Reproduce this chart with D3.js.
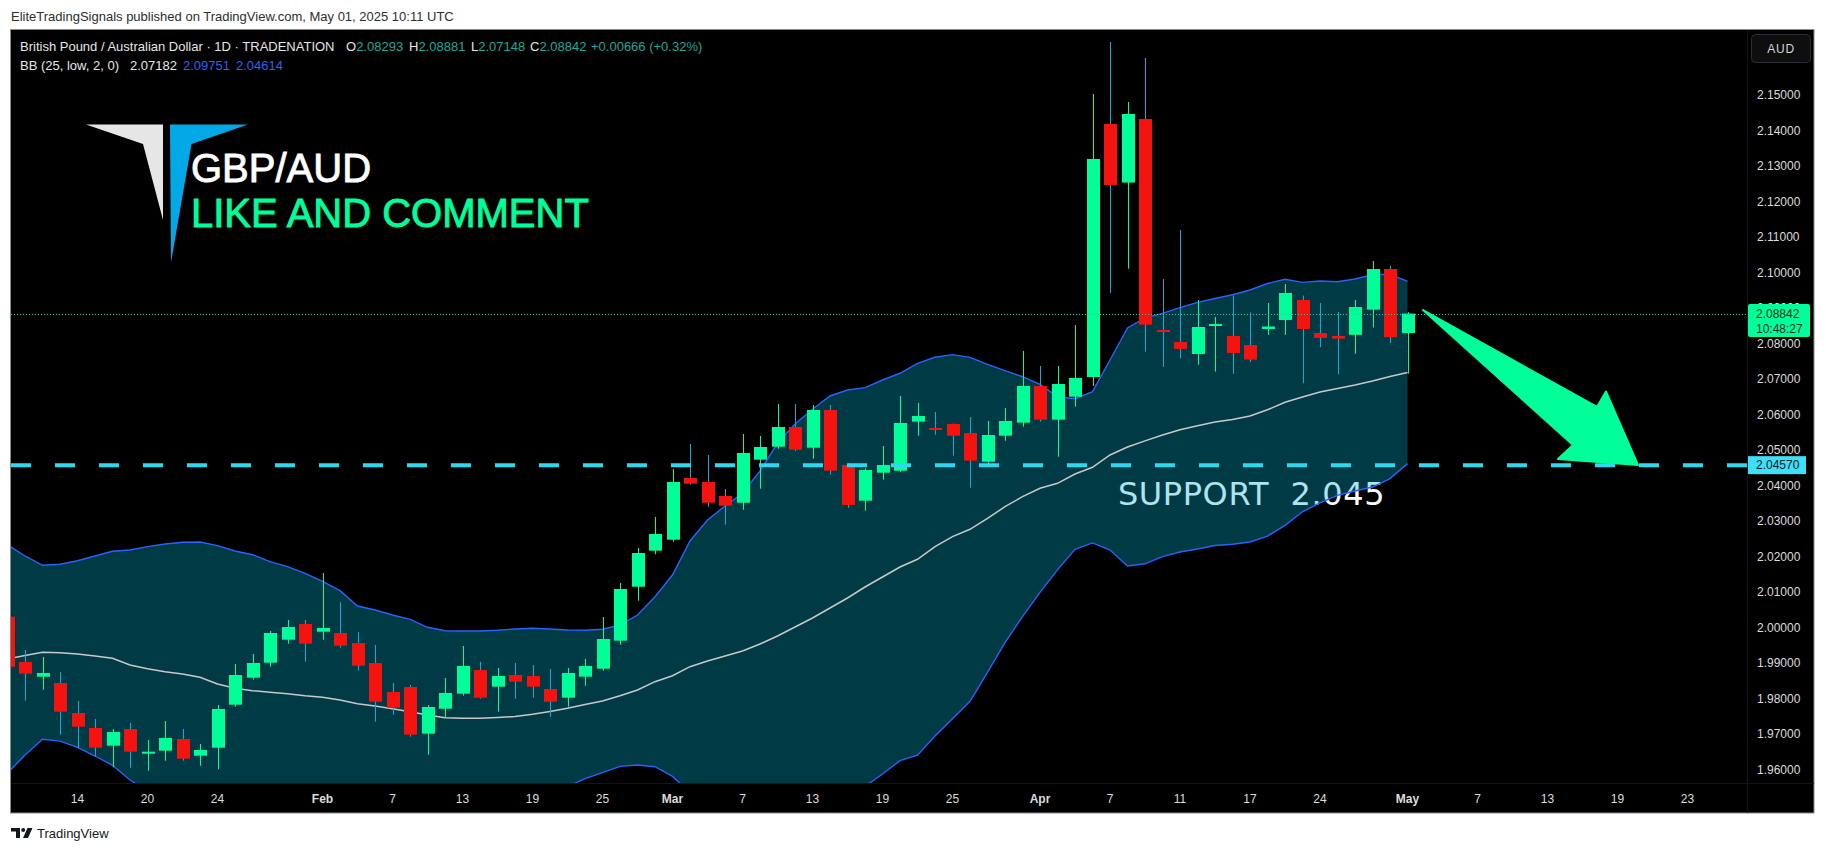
<!DOCTYPE html>
<html><head><meta charset="utf-8">
<script src="https://cdn.jsdelivr.net/npm/d3@7"></script>
<style>
html,body{margin:0;padding:0;background:#fff;}
svg{display:block;font-family:"Liberation Sans",Arial,sans-serif;}
</style></head><body>
<svg id="c" width="1826" height="853"></svg>
<script>
// ---------- data ----------
const dates = ["2025-01-08","2025-01-09","2025-01-10","2025-01-13","2025-01-14","2025-01-15","2025-01-16","2025-01-17","2025-01-20","2025-01-21","2025-01-22","2025-01-23","2025-01-24","2025-01-27","2025-01-28","2025-01-29","2025-01-30","2025-01-31","2025-02-03","2025-02-04","2025-02-05","2025-02-06","2025-02-07","2025-02-10","2025-02-11","2025-02-12","2025-02-13","2025-02-14","2025-02-17","2025-02-18","2025-02-19","2025-02-20","2025-02-21","2025-02-24","2025-02-25","2025-02-26","2025-02-27","2025-02-28","2025-03-03","2025-03-04","2025-03-05","2025-03-06","2025-03-07","2025-03-10","2025-03-11","2025-03-12","2025-03-13","2025-03-14","2025-03-17","2025-03-18","2025-03-19","2025-03-20","2025-03-21","2025-03-24","2025-03-25","2025-03-26","2025-03-27","2025-03-28","2025-03-31","2025-04-01","2025-04-02","2025-04-03","2025-04-04","2025-04-07","2025-04-08","2025-04-09","2025-04-10","2025-04-11","2025-04-14","2025-04-15","2025-04-16","2025-04-17","2025-04-21","2025-04-22","2025-04-23","2025-04-24","2025-04-25","2025-04-28","2025-04-29","2025-04-30","2025-05-01"];
const futureDates = ["2025-05-02","2025-05-05","2025-05-06","2025-05-07","2025-05-08","2025-05-09","2025-05-12","2025-05-13","2025-05-14","2025-05-15","2025-05-16","2025-05-19","2025-05-20","2025-05-21","2025-05-22","2025-05-23","2025-05-26","2025-05-27","2025-05-28","2025-05-29","2025-05-30"];
const openP  = [2.00300,1.99024,1.98610,1.98432,1.97587,1.97164,1.96666,1.97136,1.96440,1.96525,1.96854,1.96384,1.96609,1.97821,1.98582,1.99004,1.99652,2.00095,1.99877,1.99841,1.99559,1.98996,1.98179,1.98320,1.97004,1.97708,1.98131,1.98799,1.98328,1.98658,1.98629,1.98263,1.98018,1.98610,1.98835,1.99624,2.01145,2.02160,2.02470,2.04208,2.04096,2.03701,2.03512,2.04724,2.05090,2.05646,2.05062,2.06124,2.04575,2.03569,2.04358,2.04414,2.05795,2.05617,2.05730,2.05476,2.04668,2.05400,2.05767,2.06801,2.05851,2.06499,2.07054,2.14183,2.12532,2.14324,2.08379,2.08041,2.07702,2.08491,2.08210,2.07956,2.08407,2.08660,2.09224,2.08294,2.08210,2.08243,2.08953,2.10097,2.08293];
const highP  = [2.00420,1.99362,1.99165,1.98742,1.97925,1.97418,1.97136,1.97305,1.96826,1.97361,1.97136,1.96713,1.97812,1.98968,1.99249,1.99897,2.00207,2.00207,2.01532,2.00715,1.99869,1.99503,1.98432,1.98376,1.97812,1.98573,1.99475,1.99032,1.98855,1.98996,1.98939,1.98827,1.98855,1.99108,2.00292,2.01250,2.02236,2.03109,2.04462,2.05166,2.04856,2.03898,2.05448,2.05392,2.06294,2.06294,2.06265,2.06265,2.04630,2.04481,2.05110,2.06519,2.06322,2.06068,2.05740,2.05927,2.05814,2.06181,2.07787,2.07364,2.07364,2.08519,2.15028,2.16494,2.14803,2.16043,2.09816,2.11196,2.09224,2.08745,2.09351,2.08875,2.09139,2.09675,2.09351,2.09139,2.08886,2.09224,2.10323,2.10182,2.08881];
const lowP   = [1.98720,1.97933,1.98244,1.96975,1.96592,1.96356,1.96057,1.96046,1.95961,1.96243,1.96243,1.96102,1.96001,1.97764,1.98525,1.98892,1.99540,1.99032,1.99652,1.99426,1.98779,1.97342,1.97539,1.96919,1.96412,1.97446,1.98075,1.97990,1.97624,1.97990,1.98018,1.97483,1.97764,1.98356,1.98779,1.99511,2.00751,2.02057,2.02413,2.04020,2.03400,2.02893,2.03315,2.03907,2.05033,2.04970,2.04752,2.04301,2.03371,2.03287,2.04161,2.04380,2.05400,2.05428,2.04837,2.03935,2.04566,2.05259,2.05654,2.05795,2.04809,2.06217,2.06801,2.09427,2.10106,2.07767,2.07336,2.07576,2.07401,2.07207,2.07147,2.07477,2.08243,2.08243,2.06877,2.07894,2.07127,2.07711,2.08449,2.08012,2.07148];
const closeP = [1.98891,1.98695,1.98714,1.97624,1.97201,1.96609,1.97052,1.96497,1.96497,1.96883,1.96299,1.96544,1.97700,1.98658,1.98996,1.99841,2.00010,1.99540,1.99982,1.99483,1.98920,1.97905,1.97736,1.96975,1.97756,1.98151,1.98911,1.98018,1.98629,1.98469,1.98328,1.97905,1.98714,1.98911,1.99672,2.01081,2.02095,2.02630,2.04096,2.04048,2.03512,2.03428,2.04913,2.05082,2.05646,2.05006,2.06124,2.04414,2.03448,2.04434,2.04575,2.05758,2.05955,2.05597,2.05400,2.04696,2.05420,2.05814,2.06801,2.05851,2.06857,2.07026,2.13197,2.12464,2.14465,2.08528,2.08331,2.07846,2.08463,2.08548,2.07731,2.07545,2.08477,2.09421,2.08407,2.08156,2.08136,2.09027,2.10097,2.08176,2.08842];
const bbUpper = [2.02321,2.02011,2.01749,2.01777,2.01878,2.02011,2.02143,2.02180,2.02273,2.02349,2.02397,2.02405,2.02301,2.02152,2.02047,2.01850,2.01709,2.01523,2.01298,2.01033,2.00602,2.00489,2.00348,2.00227,2.00002,1.99906,1.99898,1.99898,1.99917,1.99954,1.99974,1.99954,1.99926,1.99917,1.99945,2.00066,2.00348,2.00864,2.01475,2.02433,2.03025,2.03419,2.03777,2.04406,2.05186,2.05730,2.06144,2.06519,2.06688,2.06753,2.06970,2.07159,2.07440,2.07609,2.07683,2.07609,2.07412,2.07232,2.07063,2.06849,2.06499,2.06443,2.06640,2.07533,2.08435,2.08717,2.08846,2.09010,2.09156,2.09266,2.09371,2.09506,2.09689,2.09807,2.09720,2.09759,2.09740,2.09816,2.09934,2.09951,2.09751];
const bbBasis = [1.99108,1.99207,1.99297,1.99286,1.99249,1.99193,1.99128,1.98939,1.98835,1.98751,1.98686,1.98593,1.98404,1.98283,1.98215,1.98170,1.98131,1.98074,1.98029,1.97953,1.97849,1.97784,1.97708,1.97624,1.97530,1.97454,1.97437,1.97437,1.97460,1.97488,1.97550,1.97629,1.97719,1.97827,1.97925,1.98074,1.98235,1.98469,1.98638,1.98892,1.99052,1.99193,1.99334,1.99531,1.99757,2.00010,2.00264,2.00545,2.00827,2.01137,2.01419,2.01701,2.01918,2.02273,2.02555,2.02763,2.03073,2.03400,2.03682,2.03918,2.04059,2.04321,2.04510,2.04856,2.05082,2.05254,2.05420,2.05567,2.05682,2.05786,2.05857,2.05955,2.06130,2.06341,2.06488,2.06632,2.06730,2.06829,2.06944,2.07071,2.07182];
const bbLower = [1.95895,1.96403,1.96845,1.96795,1.96620,1.96375,1.96113,1.95698,1.95397,1.95153,1.94975,1.94781,1.94507,1.94414,1.94383,1.94490,1.94553,1.94625,1.94760,1.94873,1.95096,1.95079,1.95068,1.95021,1.95058,1.95002,1.94976,1.94976,1.95003,1.95022,1.95126,1.95304,1.95512,1.95737,1.95905,1.96082,1.96122,1.96074,1.95801,1.95351,1.95079,1.94967,1.94891,1.94656,1.94328,1.94290,1.94384,1.94571,1.94966,1.95521,1.95868,1.96243,1.96396,1.96937,1.97427,1.97917,1.98734,1.99568,2.00301,2.00987,2.01619,2.02199,2.02380,2.02179,2.01729,2.01791,2.01994,2.02124,2.02208,2.02306,2.02343,2.02404,2.02571,2.02875,2.03256,2.03505,2.03720,2.03842,2.03954,2.04191,2.04614];
const tickDates  = ["2025-01-14","2025-01-20","2025-01-24","2025-02-03","2025-02-07","2025-02-13","2025-02-19","2025-02-25","2025-03-03","2025-03-07","2025-03-13","2025-03-19","2025-03-25","2025-04-01","2025-04-07","2025-04-11","2025-04-17","2025-04-24","2025-05-01","2025-05-07","2025-05-13","2025-05-19","2025-05-23"];
const tickLabels = ["14","20","24","Feb","7","13","19","25","Mar","7","13","19","25","Apr","7","11","17","24","May","7","13","19","23"];
const monthLabels = ["Feb","Mar","Apr","May"];
const priceTicks = [1.96,1.97,1.98,1.99,2.00,2.01,2.02,2.03,2.04,2.05,2.06,2.07,2.08,2.09,2.10,2.11,2.12,2.13,2.14,2.15];
const supportLevel = 2.04570;
const lastPrice = 2.08842;
const legendOHLC = {O:"2.08293", H:"2.08881", L:"2.07148", C:"2.08842", chg:"+0.00666 (+0.32%)"};
const legendBB = {basis:"2.07182", upper:"2.09751", lower:"2.04614"};
// arrow annotation: [bar index, price]
const arrowPts = [[80.89,2.08942],[90.83,2.06209],[91.34,2.06646],[93.17,2.04575],[88.60,2.04744],[89.46,2.05138]];
const supportText = {idx:63.45, price:2.03447, label:"SUPPORT  2.045"};

// ---------- layout ----------
const svg = d3.select("#c");
const P = {left:11, right:1747, top:30, bottom:783};
const allDates = dates.concat(futureDates);
const x = d3.scaleBand().domain(allDates)
  .range([-1.25, -1.25 + allDates.length*17.5]).paddingInner(0.26).paddingOuter(0.13);
const cx = d => x(d) + x.bandwidth()/2;
const xi = d3.scaleLinear().domain([0, allDates.length-1]).range([cx(allDates[0]), cx(allDates[allDates.length-1])]);
const y = d3.scaleLinear().domain([1.956143, 2.168315]).range([P.bottom, P.top]);

// header
svg.append("text").attr("x",11).attr("y",21).attr("font-size",13).attr("fill","#2e2e2e")
  .text("EliteTradingSignals published on TradingView.com, May 01, 2025 10:11 UTC");

// panel
svg.append("rect").attr("x",10.5).attr("y",29.5).attr("width",1803.5).attr("height",783.5)
  .attr("fill","#000").attr("stroke","#8a8a8a").attr("stroke-width",1);
svg.append("line").attr("x1",P.right+0.5).attr("x2",P.right+0.5).attr("y1",30).attr("y2",813).attr("stroke","#141414");
svg.append("line").attr("x1",11).attr("x2",1814).attr("y1",P.bottom+0.5).attr("y2",P.bottom+0.5).attr("stroke","#141414");

svg.append("defs").append("clipPath").attr("id","plot").append("rect")
  .attr("x",P.left).attr("y",P.top).attr("width",P.right-P.left).attr("height",P.bottom-P.top);
const g = svg.append("g").attr("clip-path","url(#plot)");

// support text (under band fill)
g.append("text").attr("x",xi(supportText.idx)).attr("y",y(supportText.price))
  .attr("xml:space","preserve").style("white-space","pre")
  .attr("font-family","DejaVu Sans, sans-serif").attr("font-size",32).attr("letter-spacing",0.6)
  .attr("fill","#ffffff").text(supportText.label);

const bars = dates.map((d,i)=>({d, o:openP[i], h:highP[i], l:lowP[i], c:closeP[i], u:bbUpper[i], m:bbBasis[i], lo:bbLower[i]}));

// Bollinger band fill + lines
g.append("path").datum(bars)
  .attr("d", d3.area().x(b=>cx(b.d)).y0(b=>y(b.lo)).y1(b=>y(b.u)))
  .attr("fill","rgba(0,176,206,0.33)");
g.append("path").datum(bars).attr("d", d3.line().x(b=>cx(b.d)).y(b=>y(b.m)))
  .attr("fill","none").attr("stroke","#c8c8c8").attr("stroke-width",1.5);
["u","lo"].forEach(k=>{
  g.append("path").datum(bars).attr("d", d3.line().x(b=>cx(b.d)).y(b=>y(b[k])))
    .attr("fill","none").attr("stroke","#2962ff").attr("stroke-width",1.4);
});

// candles
const up = "#00ff99", dn = "#f5130f", dnWick = "#16a8d8";
const cg = g.append("g").selectAll("g").data(bars).join("g");
cg.append("line").attr("x1",b=>Math.round(cx(b.d))+0.5).attr("x2",b=>Math.round(cx(b.d))+0.5)
  .attr("y1",b=>y(b.h)).attr("y2",b=>y(b.l))
  .attr("stroke",b=>b.c>=b.o?up:dnWick).attr("stroke-width",1);
cg.append("rect").attr("x",b=>Math.round(cx(b.d))+0.5-6.5).attr("width",13)
  .attr("y",b=>Math.min(y(b.o),y(b.c)))
  .attr("height",b=>Math.max(2,Math.abs(y(b.o)-y(b.c))))
  .attr("fill",b=>b.c>=b.o?up:dn);

// support dashed line
g.append("line").attr("x1",P.left).attr("x2",P.right).attr("y1",y(supportLevel)).attr("y2",y(supportLevel))
  .attr("stroke","#2ed8ef").attr("stroke-width",4).attr("stroke-dasharray","20,24");
// last price dotted line
g.append("line").attr("x1",P.left).attr("x2",P.right).attr("y1",Math.round(y(lastPrice))+0.5).attr("y2",Math.round(y(lastPrice))+0.5)
  .attr("stroke","#26c99b").attr("stroke-width",1).attr("stroke-dasharray","1,2");

// arrow
g.append("path").attr("d", d3.line().x(p=>xi(p[0])).y(p=>y(p[1])).curve(d3.curveLinearClosed)(arrowPts))
  .attr("fill","#00ff99").attr("stroke","#00ff99").attr("stroke-width",2).attr("stroke-linejoin","round");

// legend
const lg = svg.append("g").attr("font-size",13);
const l1 = lg.append("text").attr("y",51).attr("fill","#e6e6e6");
l1.append("tspan").attr("x",20).text("British Pound / Australian Dollar · 1D · TRADENATION");
[["O",346,legendOHLC.O],["H",409,legendOHLC.H],["L",471,legendOHLC.L],["C",530,legendOHLC.C]].forEach(([k,px,v])=>{
  l1.append("tspan").attr("x",px).attr("fill","#e6e6e6").text(k);
  l1.append("tspan").attr("fill","#26a69a").text(v);
});
l1.append("tspan").attr("x",591).attr("fill","#26a69a").text(legendOHLC.chg);
const l2 = lg.append("text").attr("y",70).attr("fill","#e6e6e6");
l2.append("tspan").attr("x",20).text("BB (25, low, 2, 0)");
l2.append("tspan").attr("x",130).text(legendBB.basis);
l2.append("tspan").attr("x",183).attr("fill","#2962ff").text(legendBB.upper);
l2.append("tspan").attr("x",236).attr("fill","#2962ff").text(legendBB.lower);

// logo
svg.append("path").attr("d","M86,124.5 L163,124.5 L163,220 L143,144 Z").attr("fill","#e6e6e6");
svg.append("path").attr("d","M170,124.5 L248,124.5 L191.5,144 L171,262.5 Z").attr("fill","#03a9e6");
svg.append("text").attr("x",191).attr("y",182).attr("font-size",40).attr("fill","#ffffff")
  .attr("stroke","#ffffff").attr("stroke-width",0.9).text("GBP/AUD");
svg.append("text").attr("x",191).attr("y",227).attr("font-size",40).attr("fill","#00ff99")
  .attr("stroke","#00ff99").attr("stroke-width",0.9).text("LIKE AND COMMENT");

// price axis
const ya = svg.append("g").attr("transform",`translate(${P.right},0)`)
  .call(d3.axisRight(y).tickValues(priceTicks).tickFormat(d3.format(".5f")).tickSize(0).tickPadding(10));
ya.select(".domain").remove();
ya.selectAll("text").attr("font-size",12).attr("fill","#dcdcdc").attr("font-family","Liberation Sans, Arial, sans-serif");

// time axis
const xa = svg.append("g").attr("transform",`translate(0,${P.bottom})`)
  .call(d3.axisBottom(x).tickValues(tickDates).tickFormat((d,i)=>tickLabels[i]).tickSize(0));
xa.select(".domain").remove();
xa.selectAll("text").attr("y",16).attr("dy","0.35em").attr("font-size",12).attr("fill","#dcdcdc")
  .attr("font-family","Liberation Sans, Arial, sans-serif")
  .attr("font-weight",function(){return monthLabels.includes(this.textContent)?"bold":"normal";});

// AUD button
svg.append("rect").attr("x",1751.5).attr("y",34.5).attr("width",59).attr("height",28).attr("rx",4)
  .attr("fill","#0e0e0e").attr("stroke","#2a2e39");
svg.append("text").attr("x",1781).attr("y",48.5).attr("dy","0.35em").attr("text-anchor","middle")
  .attr("font-size",12).attr("fill","#d1d4dc").attr("letter-spacing",0.8).text("AUD");

// last price label (covers the 2.09000 tick, as in the reference)
const yl = y(lastPrice);
svg.append("rect").attr("x",1748).attr("y",yl-9.5).attr("width",62).attr("height",33).attr("rx",2).attr("fill","#00ff99");
svg.append("text").attr("x",1756).attr("y",yl+0.5).attr("dy","0.35em").attr("font-size",12).attr("fill","#0d2a20").text(d3.format(".5f")(lastPrice));
svg.append("text").attr("x",1756).attr("y",yl+15.5).attr("dy","0.35em").attr("font-size",12).attr("fill","#0d2a20").text("10:48:27");
// support label
const ys = y(supportLevel);
svg.append("rect").attr("x",1748).attr("y",ys-9).attr("width",58).attr("height",18).attr("fill","#3de0f7");
svg.append("text").attr("x",1756).attr("y",ys).attr("dy","0.35em").attr("font-size",12).attr("fill","#0a1a1f").text(d3.format(".5f")(supportLevel));

// TradingView footer
const tv = svg.append("g").attr("fill","#131722");
tv.append("path").attr("d","M11,828 h9 v10 h-4 v-6.5 h-5 z");
tv.append("circle").attr("cx",23.2).attr("cy",830).attr("r",2);
tv.append("path").attr("d","M27.5,828 h5 l-4.5,10 h-5 z");
svg.append("text").attr("x",37).attr("y",838).attr("font-size",13).attr("fill","#131722").text("TradingView");
</script>
</body></html>
